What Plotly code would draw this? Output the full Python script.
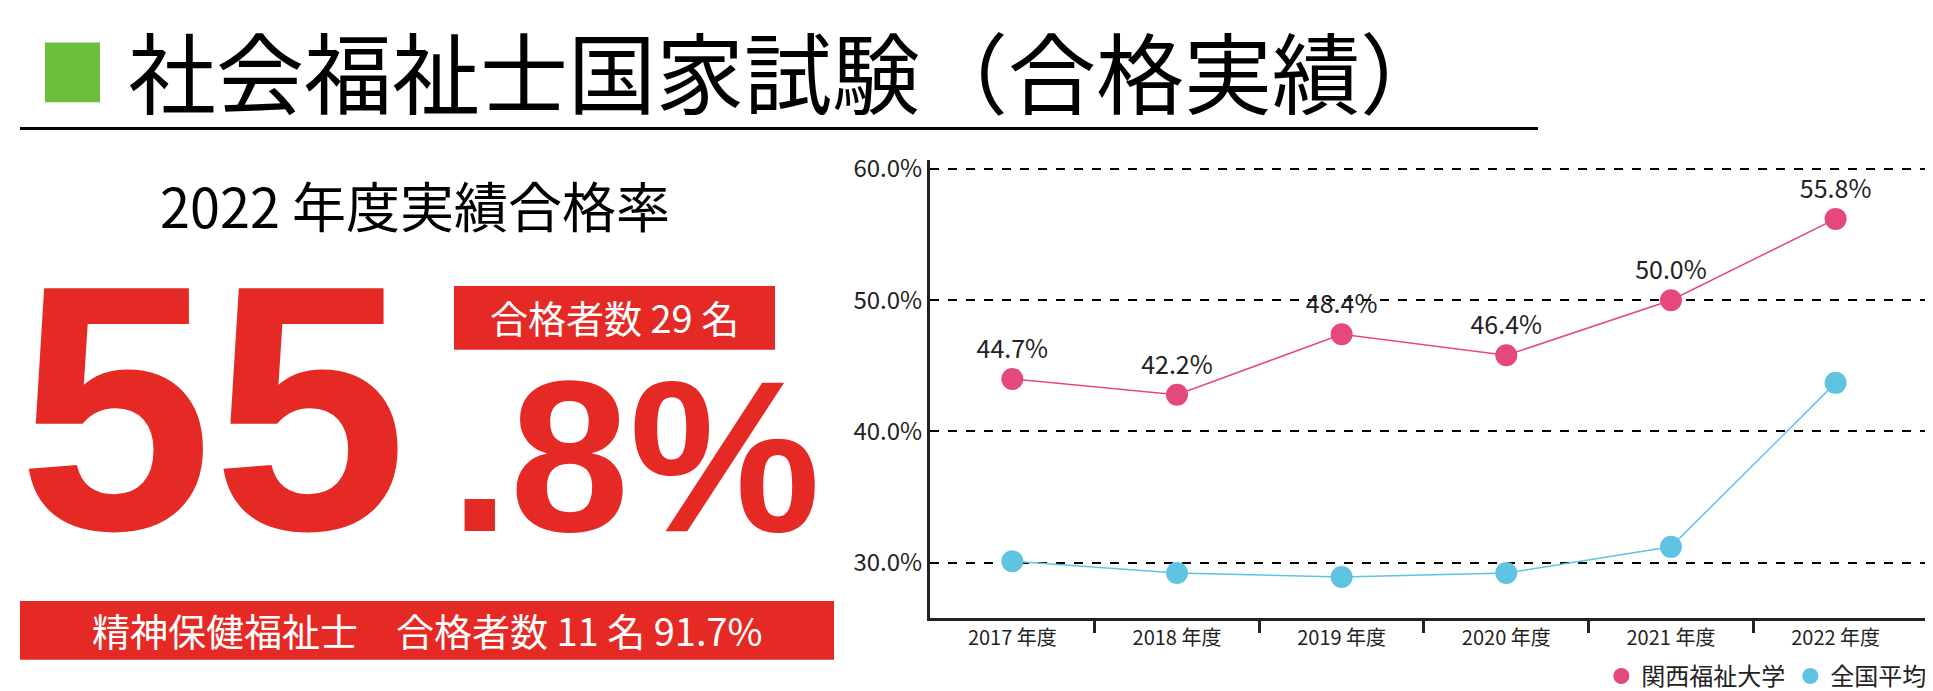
import plotly.graph_objects as go

# %% data
years = ["2017 年度", "2018 年度", "2019 年度", "2020 年度", "2021 年度", "2022 年度"]
kansai = [44.0, 42.8, 47.4, 45.8, 50.0, 56.2]
kansai_labels = ["44.7%", "42.2%", "48.4%", "46.4%", "50.0%", "55.8%"]
national = [30.1, 29.2, 28.9, 29.2, 31.2, 43.7]
ytick_vals = [30, 40, 50, 60]
ytick_text = ["30.0%", "40.0%", "50.0%", "60.0%"]

W, H = 1933, 691
RED = "#e52a26"
PINK = "#e5487f"
BLUE = "#5ec4e2"
FONT = "Noto Sans CJK JP"


def px(x):
    return x / W


def py(y):
    return 1 - y / H


xs = list(range(len(years)))

fig = go.Figure()
fig.add_trace(go.Scatter(x=xs, y=kansai, mode="lines+markers+text", showlegend=False,
                         line=dict(color=PINK, width=1.5), marker=dict(size=22, color=PINK),
                         text=kansai_labels, textposition="top center",
                         textfont=dict(size=25, color="#222"), cliponaxis=False))
fig.add_trace(go.Scatter(x=xs, y=national, mode="lines+markers", showlegend=False,
                         line=dict(color=BLUE, width=1.5), marker=dict(size=22, color=BLUE)))
# legend-only entries (dots without line)
fig.add_trace(go.Scatter(x=[None], y=[None], mode="markers", name="関西福祉大学",
                         marker=dict(size=22, color=PINK)))
fig.add_trace(go.Scatter(x=[None], y=[None], mode="markers", name="全国平均",
                         marker=dict(size=22, color=BLUE)))

shapes = [
    dict(type="rect", xref="paper", yref="paper", x0=px(37), x1=px(92), y0=py(86), y1=py(25),
         fillcolor="#6cbf3c", line_width=0),
    dict(type="line", xref="paper", yref="paper", x0=px(12), x1=px(1530), y0=py(113), y1=py(113),
         line=dict(color="black", width=3)),
    dict(type="rect", xref="paper", yref="paper", x0=px(446), x1=px(767), y0=py(339), y1=py(274),
         fillcolor=RED, line_width=0),
    dict(type="rect", xref="paper", yref="paper", x0=px(12), x1=px(826), y0=py(656), y1=py(596),
         fillcolor=RED, line_width=0),
]

ann = [
    dict(x=px(118), y=py(52), text="社会福祉士国家試験（合格実績）", xanchor="left",
         font=dict(size=88, color="black")),
    dict(x=px(407), y=py(191), text="2022 年度実績合格率", xanchor="center",
         font=dict(size=54, color="black")),
    dict(x=px(8), y=py(398), text="<b>55</b>", xanchor="left",
         font=dict(size=350, color=RED, family="Liberation Sans")),
    dict(x=px(440), y=py(448), text="<b>.8%</b>", xanchor="left",
         font=dict(size=215, color=RED, family="Liberation Sans")),
    dict(x=px(606), y=py(305), text="合格者数 29 名", xanchor="center",
         font=dict(size=38, color="white")),
    dict(x=px(419), y=py(625), text="精神保健福祉士　合格者数 11 名 91.7%", xanchor="center",
         font=dict(size=38, color="white")),
]
for a in ann:
    a.update(xref="paper", yref="paper", showarrow=False, yanchor="middle")

fig.update_layout(
    width=W, height=H, margin=dict(l=0, r=0, t=0, b=0),
    paper_bgcolor="white", plot_bgcolor="rgba(0,0,0,0)",
    font=dict(family=FONT, color="#222"),
    shapes=shapes, annotations=ann,
    legend=dict(orientation="h", x=0.995, xanchor="right", y=py(673), yanchor="middle",
                font=dict(size=24), bgcolor="rgba(0,0,0,0)"),
    xaxis=dict(domain=[px(922), 1.0], range=[-0.5, 5.64], tickvals=xs, ticktext=years,
               showgrid=False, zeroline=False, showline=True, linecolor="#222", linewidth=3,
               ticks="", tickfont=dict(size=20),
               minor=dict(tickvals=[0.5, 1.5, 2.5, 3.5, 4.5], ticks="outside", ticklen=12,
                          tickwidth=3, tickcolor="#222", showgrid=False)),
    yaxis=dict(domain=[py(613), py(145)], range=[25.8, 60.7], tickvals=ytick_vals,
               ticktext=ytick_text, showgrid=True, gridcolor="black", griddash="dash",
               gridwidth=1.5, zeroline=False, showline=True, linecolor="#222", linewidth=3,
               ticks="", tickfont=dict(size=24)),
)

fig.write_html("out.html")
